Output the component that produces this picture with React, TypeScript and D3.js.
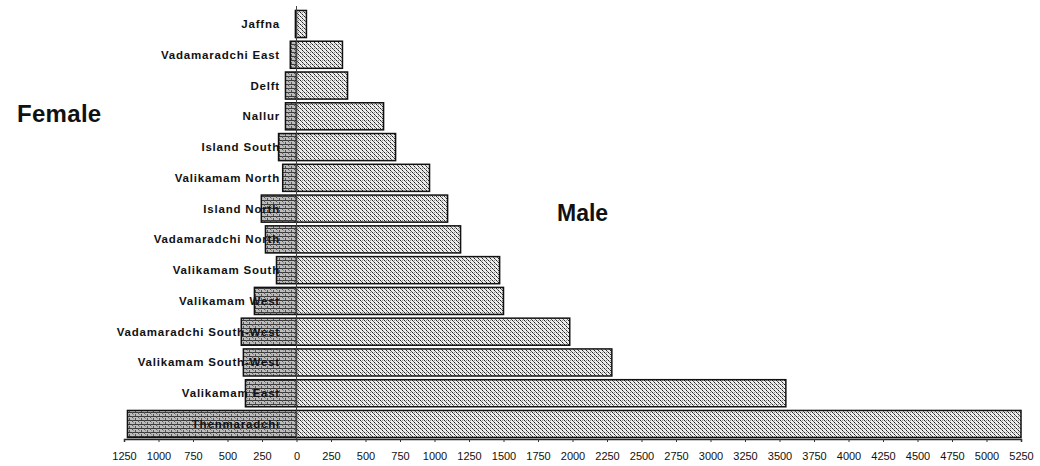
import React, { useRef, useEffect } from "react";
import * as d3 from "d3";

const categories = [
  "Jaffna",
  "Vadamaradchi East",
  "Delft",
  "Nallur",
  "Island South",
  "Valikamam North",
  "Island North",
  "Vadamaradchi North",
  "Valikamam South",
  "Valikamam West",
  "Vadamaradchi South-West",
  "Valikamam South-West",
  "Valikamam East",
  "Thenmaradchi",
];
const female = [8, 45, 80, 80, 130, 100, 255, 225, 145, 305, 400, 385, 370, 1225];
const male = [72, 333, 370, 631, 718, 964, 1095, 1189, 1472, 1500, 1980, 2285, 3546, 5250];
const tickValues = d3.range(-1250, 5251, 250);

const App = () => {
  const svgRef = useRef<SVGSVGElement>(null);

  useEffect(() => {
    const width = 1040;
    const height = 466;
    const svg = d3.select(svgRef.current);
    svg.selectAll("*").remove();

    const x = d3.scaleLinear().domain([-1250, 5250]).range([124, 1021]);
    const y = d3
      .scaleBand()
      .domain(categories)
      .range([8, 440])
      .paddingInner(0.12)
      .paddingOuter(0.08);

    const defs = svg.append("defs");
    // brick-ish pattern for the female bars
    const pf = defs
      .append("pattern")
      .attr("id", "femalePat")
      .attr("patternUnits", "userSpaceOnUse")
      .attr("width", 6)
      .attr("height", 4);
    pf.append("rect").attr("width", 6).attr("height", 4).attr("fill", "#bdbdbd");
    pf.append("rect").attr("y", 0).attr("width", 6).attr("height", 1).attr("fill", "#3a3a3a");
    pf.append("rect").attr("x", 0).attr("y", 0).attr("width", 1).attr("height", 2).attr("fill", "#555");
    pf.append("rect").attr("x", 3).attr("y", 2).attr("width", 1).attr("height", 2).attr("fill", "#555");
    pf.append("rect").attr("x", 1).attr("y", 2).attr("width", 1).attr("height", 1).attr("fill", "#888");

    // diagonal dots for the male bars
    const pm = defs
      .append("pattern")
      .attr("id", "malePat")
      .attr("patternUnits", "userSpaceOnUse")
      .attr("width", 4)
      .attr("height", 4);
    pm.append("rect").attr("width", 4).attr("height", 4).attr("fill", "#ececec");
    pm.append("rect").attr("x", 0).attr("y", 0).attr("width", 1).attr("height", 1).attr("fill", "#222");
    pm.append("rect").attr("x", 1).attr("y", 1).attr("width", 1).attr("height", 1).attr("fill", "#666");
    pm.append("rect").attr("x", 2).attr("y", 2).attr("width", 1).attr("height", 1).attr("fill", "#222");
    pm.append("rect").attr("x", 3).attr("y", 3).attr("width", 1).attr("height", 1).attr("fill", "#666");
    pm.append("rect").attr("x", 2).attr("y", 0).attr("width", 1).attr("height", 1).attr("fill", "#999");

    svg.append("rect").attr("width", width).attr("height", height).attr("fill", "#fff");

    // female bars
    svg
      .append("g")
      .selectAll("rect")
      .data(categories)
      .join("rect")
      .attr("x", (d, i) => x(-female[i]))
      .attr("y", (d) => y(d)!)
      .attr("width", (d, i) => x(0) - x(-female[i]))
      .attr("height", y.bandwidth())
      .attr("fill", "url(#femalePat)")
      .attr("stroke", "#111")
      .attr("stroke-width", 1.5);

    // male bars
    svg
      .append("g")
      .selectAll("rect")
      .data(categories)
      .join("rect")
      .attr("x", x(0))
      .attr("y", (d) => y(d)!)
      .attr("width", (d, i) => x(male[i]) - x(0))
      .attr("height", y.bandwidth())
      .attr("fill", "url(#malePat)")
      .attr("stroke", "#111")
      .attr("stroke-width", 1.5);

    // zero line
    svg
      .append("line")
      .attr("x1", x(0))
      .attr("x2", x(0))
      .attr("y1", 6)
      .attr("y2", 440)
      .attr("stroke", "#444")
      .attr("stroke-width", 1);

    // category labels
    svg
      .append("g")
      .selectAll("text")
      .data(categories)
      .join("text")
      .attr("x", 280)
      .attr("y", (d) => y(d)! + y.bandwidth() / 2)
      .attr("dy", "0.35em")
      .attr("text-anchor", "end")
      .attr("font-family", "Liberation Sans, Arial, sans-serif")
      .attr("font-size", 11.5)
      .attr("font-weight", "bold")
      .attr("letter-spacing", 0.8)
      .attr("fill", "#111")
      .text((d) => d);

    // x axis
    const xAxis = (g) => {
      g.attr("transform", `translate(0, 439)`)
        .call(
          d3
            .axisBottom(x)
            .tickValues(tickValues)
            .tickSize(3)
            .tickFormat((d) => String(Math.abs(d as number)))
        )
        .call((g) => g.select(".domain").attr("stroke", "#222").attr("stroke-width", 1.5))
        .call((g) => g.selectAll(".tick line").attr("stroke", "#333"))
        .call((g) =>
          g
            .selectAll(".tick text")
            .attr("font-family", "Liberation Sans, Arial, sans-serif")
            .attr("font-size", 11)
            .attr("fill", "#111")
            .attr("dy", "1.35em")
        );
    };
    svg.append("g").call(xAxis);

    svg
      .append("text")
      .attr("x", 17)
      .attr("y", 122)
      .attr("font-family", "Liberation Sans, Arial, sans-serif")
      .attr("font-size", 24)
      .attr("font-weight", "bold")
      .attr("letter-spacing", 0.3)
      .attr("fill", "#111")
      .text("Female");

    svg
      .append("text")
      .attr("x", 557)
      .attr("y", 221)
      .attr("font-family", "Liberation Sans, Arial, sans-serif")
      .attr("font-size", 23)
      .attr("font-weight", "bold")
      .attr("fill", "#111")
      .text("Male");
  }, []);

  return (
    <div style={{ position: "fixed", left: 0, top: 0, width: 1040, height: 466, background: "#fff" }}>
      <svg ref={svgRef} width={1040} height={466}></svg>
    </div>
  );
};

export default App;
